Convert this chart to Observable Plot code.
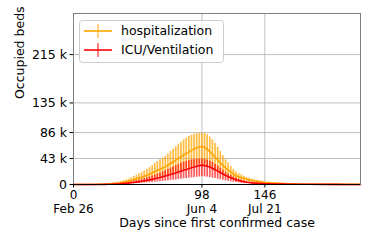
<!DOCTYPE html>
<html>
<head>
<meta charset="utf-8">
<script src="https://cdn.jsdelivr.net/npm/d3@7"></script>
<script src="https://cdn.jsdelivr.net/npm/@observablehq/plot@0.6"></script>
<style>
  html, body { margin: 0; padding: 0; background: #fff; }
  #wrap { position: relative; width: 374px; height: 249px; font-family: "DejaVu Sans", sans-serif; }
  #legend { position: absolute; left: 0; top: 0; pointer-events: none; }
</style>
</head>
<body>
<div id="wrap"></div>
<script>
// Days since first confirmed case
const days = [0,10,20,24,26,28,30,32,34,36,38,40,42,44,46,48,50,52,54,56,58,60,62,64,66,68,70,72,74,76,78,80,82,84,86,88,90,92,94,96,98,100,102,104,106,108,110,112,114,116,118,120,122,124,126,128,130,132,134,136,138,140,142,144,146,148,150,152,154,156,158,160,162,164,166,168,170,180,190,200,210,219];

// Occupied beds (thousands)
const hosp   = [0.05,0.1,0.3,0.5,0.7,1.0,1.4,1.8,2.4,3.0,3.8,4.6,5.6,6.7,8.0,9.3,10.7,12.1,13.6,15.2,17.0,19.0,21.5,23.5,25.3,27.2,29.2,32.0,34.8,37.6,40.4,43.2,46.0,48.8,51.5,54.0,56.5,58.8,60.8,62.2,63.0,61.5,58.5,54.5,50.0,45.5,41.0,36.0,31.5,27.5,24.0,20.5,17.5,14.5,13.0,11.5,9.8,8.6,7.6,6.7,5.9,5.2,4.5,3.9,3.4,3.0,2.7,2.4,2.1,1.9,1.7,1.5,1.3,1.1,1.0,0.9,0.8,0.5,0.35,0.25,0.2,0.15];
const hospHi = [0.08,0.16,0.5,0.8,1.2,1.7,2.3,3.0,4.0,5.0,6.3,7.6,9.2,11.1,13.2,15.3,17.7,20.0,22.4,25.1,28.0,31.4,35.0,38.0,41.0,43.8,46.5,50.5,54.5,58.5,62.5,66.5,70.0,74.0,77.0,79.5,81.5,83.0,84.0,84.8,85.0,84.5,82.5,78.5,74.0,68.0,61.5,54.5,47.5,41.0,35.5,30.0,25.0,20.5,18.0,16.0,13.5,11.8,10.4,9.2,8.1,7.1,6.2,5.3,4.6,4.1,3.7,3.3,2.9,2.6,2.3,2.0,1.8,1.5,1.4,1.2,1.1,0.7,0.5,0.35,0.28,0.2];
const hospLo = [0.03,0.05,0.15,0.25,0.35,0.5,0.7,0.9,1.2,1.5,1.9,2.3,2.8,3.3,4.0,4.6,5.3,6.0,6.8,7.6,8.5,9.5,10.7,11.8,12.7,13.6,14.6,16.0,17.4,18.8,20.2,21.6,23.0,24.4,26.0,27.5,29.0,30.5,32.0,33.0,34.0,33.0,31.0,28.5,26.0,23.5,21.0,18.5,16.0,14.0,12.0,10.5,9.0,7.5,6.6,5.8,5.0,4.4,3.9,3.4,3.0,2.6,2.3,2.0,1.7,1.5,1.35,1.2,1.05,0.95,0.85,0.75,0.65,0.55,0.5,0.45,0.4,0.25,0.18,0.12,0.1,0.08];
const icu    = [0.02,0.05,0.12,0.2,0.3,0.4,0.5,0.7,0.9,1.2,1.5,1.9,2.3,2.8,3.4,4.0,4.6,5.3,6.0,6.8,7.6,8.5,9.5,10.6,11.7,12.8,14.0,15.3,16.6,17.9,19.2,20.6,22.0,23.4,24.8,26.2,27.6,29.0,30.3,31.3,32.0,31.6,30.4,28.8,26.8,24.5,22.2,19.8,17.4,15.0,13.0,11.2,9.5,8.0,6.7,5.6,4.6,3.8,3.2,2.7,2.3,2.0,1.7,1.5,1.3,1.15,1.0,0.9,0.8,0.7,0.65,0.6,0.55,0.5,0.45,0.42,0.4,0.3,0.2,0.15,0.12,0.1];
const icuHi  = [0.03,0.08,0.2,0.3,0.5,0.6,0.8,1.1,1.5,2.0,2.5,3.1,3.8,4.6,5.6,6.6,7.6,8.7,9.9,11.2,12.5,14.0,15.6,17.4,19.2,21.0,23.0,25.0,27.0,29.0,31.0,33.0,35.0,36.8,38.3,39.5,40.5,41.3,41.8,42.0,42.0,41.6,40.5,38.8,36.5,33.5,30.5,27.0,23.5,20.3,17.5,15.0,12.7,10.7,9.0,7.5,6.2,5.1,4.3,3.6,3.1,2.7,2.3,2.0,1.75,1.55,1.35,1.2,1.1,0.95,0.9,0.8,0.75,0.7,0.6,0.57,0.54,0.4,0.27,0.2,0.16,0.13];
const icuLo  = [0.01,0.02,0.05,0.08,0.12,0.16,0.2,0.28,0.36,0.48,0.6,0.76,0.92,1.1,1.4,1.6,1.8,2.1,2.4,2.7,3.0,3.4,3.8,4.2,4.7,5.1,5.6,6.1,6.6,7.2,7.7,8.2,8.8,9.4,9.9,10.5,11.0,11.6,12.1,12.5,12.8,12.6,12.2,11.5,10.7,9.8,8.9,7.9,7.0,6.0,5.2,4.5,3.8,3.2,2.7,2.2,1.8,1.5,1.3,1.1,0.9,0.8,0.7,0.6,0.5,0.46,0.4,0.36,0.32,0.28,0.26,0.24,0.22,0.2,0.18,0.17,0.16,0.12,0.08,0.06,0.05,0.04];

// Tick labels
const xTicks = [0, 98, 146];
const xDates = ["Feb 26", "Jun 4", "Jul 21"];
const yTicks = [0, 43, 86, 135, 215];
const yTickLabels = ["0", "43 k", "86 k", "135 k", "215 k"];
const seriesNames = ["hospitalization", "ICU/Ventilation"];
const xLabel = "Days since first confirmed case";
const yLabel = "Occupied beds";

const rows = days.map((d, i) => ({
  day: d, hosp: hosp[i], hospHi: hospHi[i], hospLo: hospLo[i],
  icu: icu[i], icuHi: icuHi[i], icuLo: icuLo[i]
}));

const ORANGE = "#ffa500", RED = "#ff0000";

const chart = Plot.plot({
  width: 374,
  height: 249,
  marginLeft: 73,
  marginRight: 14,
  marginTop: 13,
  marginBottom: 65,
  style: { fontFamily: "DejaVu Sans, sans-serif", fontSize: "12.5px", color: "#000", background: "#fff", overflow: "visible" },
  x: { domain: [0, 219] },
  y: { domain: [0, 283] },
  marks: [
    Plot.gridY(yTicks.slice(1), { stroke: "#b0b0b0", strokeOpacity: 1, strokeWidth: 0.8 }),
    Plot.gridX(xTicks.slice(1), { stroke: "#b0b0b0", strokeOpacity: 1, strokeWidth: 0.8 }),
    Plot.ruleX(rows, { x: "day", y1: "hospLo", y2: "hospHi", stroke: ORANGE, strokeOpacity: 0.75, strokeWidth: 1.7 }),
    Plot.line(rows, { x: "day", y: "hosp", stroke: ORANGE, strokeWidth: 1.6 }),
    Plot.ruleX(rows, { x: "day", y1: "icuLo", y2: "icuHi", stroke: RED, strokeOpacity: 0.65, strokeWidth: 1.7 }),
    Plot.line(rows, { x: "day", y: "icu", stroke: RED, strokeWidth: 1.6 }),
    Plot.frame({ stroke: "#808080", strokeWidth: 1 }),
    Plot.ruleY([0], { stroke: "#000", strokeWidth: 1 }),
    Plot.axisX({
      ticks: xTicks,
      tickFormat: (d) => String(d),
      tickSize: 3.5, tickPadding: 2.5, fontSize: 12, label: null, stroke: "#000"
    }),
    Plot.axisX({
      ticks: xTicks,
      tickFormat: (d) => xDates[xTicks.indexOf(d)],
      tickSize: 0, tickPadding: 20, fontSize: 12, label: null
    }),
    Plot.axisY({
      ticks: yTicks,
      tickFormat: (d) => yTickLabels[yTicks.indexOf(d)],
      tickSize: 3.5, tickPadding: 3, label: null, stroke: "#000"
    }),
    Plot.text([xLabel], { frameAnchor: "bottom", dy: 42.5, fontSize: 12.5, fill: "#000" }),
    Plot.text([yLabel], { frameAnchor: "left", dx: -54, rotate: -90, fontSize: 12.5, fill: "#000" })
  ]
});

const wrap = document.getElementById("wrap");
wrap.appendChild(chart);

// Legend (inside plot area, upper left)
const ns = "http://www.w3.org/2000/svg";
const lg = document.createElementNS(ns, "svg");
lg.setAttribute("id", "legend");
lg.setAttribute("width", 374);
lg.setAttribute("height", 249);
const colors = [ORANGE, RED];
let html = `<rect x="79.5" y="20.5" width="144" height="42" rx="3" fill="#fff" fill-opacity="0.85" stroke="#cccccc"/>`;
seriesNames.forEach((name, i) => {
  const cy = 31 + i * 19;
  html += `<line x1="84" x2="112" y1="${cy}" y2="${cy}" stroke="${colors[i]}" stroke-width="1.6"/>`;
  html += `<line x1="98" x2="98" y1="${cy - 7}" y2="${cy + 7}" stroke="${colors[i]}" stroke-opacity="0.7" stroke-width="1.4"/>`;
  html += `<text x="121" y="${cy}" dy="0.35em" font-family="DejaVu Sans, sans-serif" font-size="12.5" fill="#000">${name}</text>`;
});
lg.innerHTML = html;
wrap.appendChild(lg);
</script>
</body>
</html>
